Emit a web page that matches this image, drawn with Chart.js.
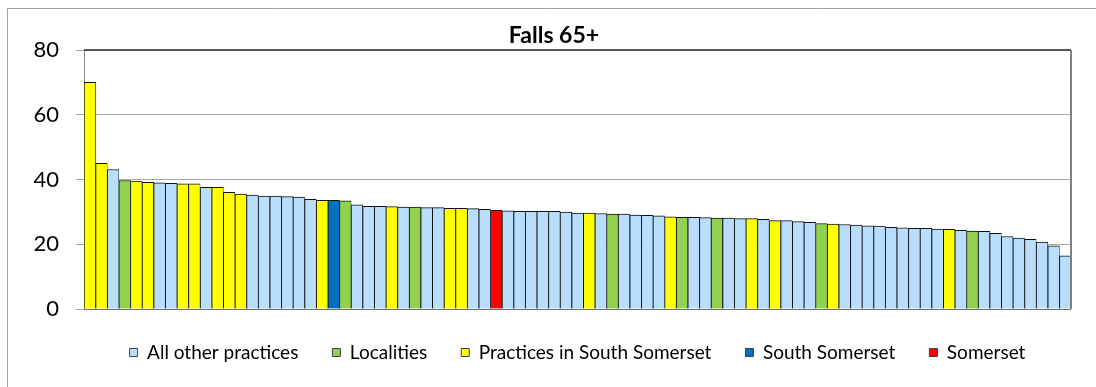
<!DOCTYPE html>
<html>
<head>
<meta charset="utf-8">
<title>Falls 65+</title>
<script src="https://cdn.jsdelivr.net/npm/chart.js@4.4.1/dist/chart.umd.min.js"></script>
<style>
    html, body { margin: 0; padding: 0; background: #fff; }
    #wrap { width: 1096px; height: 387px; }
</style>
</head>
<body>
<div id="wrap"><canvas id="falls_chart" width="1096" height="387"></canvas></div>
<script>
// series shown in the legend, in order
var seriesNames = ['All other practices', 'Localities', 'Practices in South Somerset', 'South Somerset', 'Somerset'];
var seriesColours = ['#b9ddfc', '#92d050', '#ffff00', '#0070c0', '#ff0000'];

// falls rate per practice / area, sorted high to low
var rates = [
    70.0, 45.0, 43.1, 39.7, 39.5, 39.1, 39.0, 38.8, 38.7, 38.7,
    37.6, 37.6, 36.0, 35.5, 35.2, 34.9, 34.9, 34.7, 34.6, 33.9,
    33.6, 33.6, 33.4, 32.2, 31.7, 31.7, 31.6, 31.5, 31.5, 31.3,
    31.3, 31.1, 31.1, 31.0, 30.8, 30.5, 30.3, 30.2, 30.2, 30.2,
    30.2, 29.9, 29.6, 29.6, 29.5, 29.3, 29.3, 29.0, 28.9, 28.8,
    28.5, 28.3, 28.3, 28.2, 28.1, 28.1, 27.9, 27.9, 27.7, 27.3,
    27.3, 27.0, 26.8, 26.4, 26.2, 26.1, 25.9, 25.7, 25.6, 25.2,
    25.1, 24.9, 24.9, 24.7, 24.6, 24.3, 24.1, 24.0, 23.4, 22.4,
    21.9, 21.5, 20.7, 19.5, 16.4
];

// which series each bar belongs to (index into seriesNames)
var groups = [
    2, 2, 0, 1, 2, 2, 0, 0, 2, 2,
    0, 2, 2, 2, 0, 0, 0, 0, 0, 0,
    2, 3, 1, 0, 0, 0, 2, 0, 1, 0,
    0, 2, 2, 0, 0, 4, 0, 0, 0, 0,
    0, 0, 0, 2, 0, 1, 0, 0, 0, 0,
    2, 1, 0, 0, 1, 0, 0, 2, 0, 2,
    0, 0, 0, 1, 2, 0, 0, 0, 0, 0,
    0, 0, 0, 0, 2, 0, 1, 0, 0, 0,
    0, 0, 0, 0, 0
];

var yTicks = [0, 20, 40, 60, 80];

var practices = rates.map(function (v, i) { return 'P' + (i + 1); });

var datasets = seriesNames.map(function (name, s) {
    return {
        label: name,
        data: rates.map(function (v, i) { return groups[i] === s ? v : null; }),
        backgroundColor: seriesColours[s],
        borderColor: '#111',
        borderWidth: { left: 1, top: 1, right: 0.6, bottom: 0 },
        grouped: false,
        barPercentage: 1,
        categoryPercentage: 1
    };
});

// outer frame, title and plot-area border
var framePlugin = {
    id: 'frame',
    beforeDraw: function (chart) {
        var ctx = chart.ctx;
        ctx.save();
        ctx.strokeStyle = '#a0a0a0';
        ctx.lineWidth = 1;
        ctx.beginPath();
        ctx.moveTo(7.5, chart.height);
        ctx.lineTo(7.5, 8.5);
        ctx.lineTo(chart.width, 8.5);
        ctx.stroke();

        ctx.fillStyle = '#000';
        ctx.font = 'bold 23px Lato';
        ctx.textAlign = 'center';
        ctx.textBaseline = 'alphabetic';
        ctx.fillText('Falls 65+', 554, 43);
        ctx.restore();
    },
    afterDatasetsDraw: function (chart) {
        var a = chart.chartArea;
        var ctx = chart.ctx;
        ctx.save();
        ctx.strokeStyle = '#2b2b2b';
        ctx.lineWidth = 1.5;
        ctx.beginPath();
        ctx.moveTo(a.left, a.top);
        ctx.lineTo(a.right, a.top);
        ctx.stroke();

        ctx.strokeStyle = '#808080';
        ctx.lineWidth = 2;
        ctx.beginPath();
        ctx.moveTo(a.right, a.top);
        ctx.lineTo(a.right, a.bottom);
        ctx.stroke();

        ctx.strokeStyle = '#6e6e6e';
        ctx.lineWidth = 1;
        ctx.beginPath();
        ctx.moveTo(a.left, a.bottom + 0.5);
        ctx.lineTo(a.right, a.bottom + 0.5);
        ctx.stroke();
        ctx.restore();
    }
};

var ctx = document.getElementById('falls_chart');

var fallsChart = new Chart(ctx, {
    type: 'bar',
    data: {
        labels: practices,
        datasets: datasets
    },
    plugins: [framePlugin],
    options: {
        responsive: false,
        animation: false,
        layout: {
            padding: { top: 50, right: 25, bottom: 15, left: 0 }
        },
        scales: {
            x: {
                display: false
            },
            y: {
                min: yTicks[0],
                max: yTicks[yTicks.length - 1],
                afterFit: function (scale) { scale.width = 84; },
                afterBuildTicks: function (scale) {
                    scale.ticks = yTicks.map(function (v) { return { value: v }; });
                },
                ticks: {
                    color: '#000',
                    padding: 17,
                    font: { family: 'Lato', size: 22 }
                },
                grid: {
                    color: '#a6a6a6',
                    tickColor: '#a6a6a6',
                    tickLength: 8
                },
                border: {
                    color: '#8c8c8c'
                }
            }
        },
        plugins: {
            title: { display: false },
            tooltip: { enabled: false },
            legend: {
                position: 'bottom',
                fullSize: false,
                labels: {
                    color: '#000',
                    boxWidth: 8,
                    boxHeight: 8,
                    padding: 34,
                    font: { family: 'Lato', size: 19 },
                    generateLabels: function (chart) {
                        var items = Chart.defaults.plugins.legend.labels.generateLabels(chart);
                        items.forEach(function (it) {
                            it.lineWidth = 1;
                            it.strokeStyle = '#404040';
                        });
                        return items;
                    }
                }
            }
        }
    }
});
</script>
</body>
</html>
